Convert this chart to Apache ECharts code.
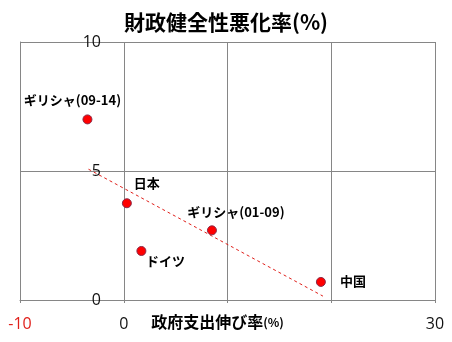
<!DOCTYPE html>
<html>
<head>
<meta charset="utf-8">
<script src="https://cdn.jsdelivr.net/npm/echarts@6/dist/echarts.min.js"></script>
<style>
  html, body { margin: 0; padding: 0; background: #fff; }
  #chart { width: 452px; height: 342px; }
</style>
</head>
<body>
<div id="chart"></div>
<script>
// 国・期間
const names = ['ギリシャ(09-14)', '日本', 'ギリシャ(01-09)', 'ドイツ', '中国'];
// 政府支出伸び率(%)
const spendGrowth = [-3.5, 0.3, 8.5, 1.7, 19.0];
// 財政健全性悪化率(%)
const fiscalWorsening = [7.0, 3.75, 2.7, 1.9, 0.7];
// 近似直線の両端
const trendX = [-3.4, 19.2];
const trendY = [5.07, 0.15];
// 目盛ラベル
const xTickLabels = { '-10': '{r|-10}', '0': '0', '30': '30' };

const jpFont = '"Noto Sans CJK JP", "Noto Sans", sans-serif';
const numFont = '"Open Sans", "Noto Sans", sans-serif';

// ラベルの位置（点の中心からのずれ）
const labelOffsets = [[-15, -19], [20, -20], [24, -18], [24, 10], [32, -1]];

let chart = echarts.init(document.getElementById('chart'));

let points = names.map((n, i) => {
  return {
    name: n,
    value: [spendGrowth[i], fiscalWorsening[i]],
    label: { offset: labelOffsets[i] }
  }
});

let option = {
  animation: false,
  backgroundColor: '#fff',
  title: {
    text: '財政健全性悪化率(%)',
    left: 'center',
    top: 7,
    textStyle: {
      fontFamily: jpFont,
      fontSize: 21,
      fontWeight: 'bold',
      color: '#000'
    }
  },
  grid: {
    left: 20,
    right: 17,
    top: 42,
    bottom: 42,
    containLabel: false,
    outerBoundsMode: 'none'
  },
  xAxis: {
    type: 'value',
    min: -10,
    max: 30,
    interval: 10,
    name: '政府支出伸び率{s|(%)}',
    nameLocation: 'middle',
    nameGap: 14,
    nameMoveOverlap: false,
    nameTextStyle: {
      fontFamily: jpFont,
      fontSize: 16,
      fontWeight: 'bold',
      color: '#000',
      padding: [0, 20, 0, 0],
      rich: {
        s: { fontFamily: jpFont, fontSize: 12, fontWeight: 'bold', color: '#000' }
      }
    },
    axisLine: { lineStyle: { color: '#868686', width: 1 } },
    axisTick: { show: true, length: 3, lineStyle: { color: '#868686' } },
    axisLabel: {
      margin: 16,
      fontFamily: numFont,
      fontSize: 16,
      color: '#111',
      formatter: v => xTickLabels[String(v)] || '',
      rich: {
        r: { fontFamily: numFont, fontSize: 16, color: '#e0201b' }
      }
    },
    splitLine: { show: true, lineStyle: { color: '#868686', width: 1 } }
  },
  yAxis: {
    type: 'value',
    min: 0,
    max: 10,
    interval: 5,
    axisLine: { show: true, onZero: false, lineStyle: { color: '#868686', width: 1 } },
    axisTick: { show: false },
    axisLabel: {
      // 0 の位置の縦線の左に置く
      margin: -81,
      fontFamily: numFont,
      fontSize: 16,
      color: '#111'
    },
    splitLine: { show: true, lineStyle: { color: '#868686', width: 1 } }
  },
  series: [
    {
      type: 'line',
      data: trendX.map((x, i) => [x, trendY[i]]),
      symbol: 'none',
      silent: true,
      lineStyle: { color: '#e0201b', width: 1, type: [3, 3] },
      z: 1
    },
    {
      type: 'scatter',
      data: points,
      symbol: 'circle',
      symbolSize: 9,
      itemStyle: {
        color: '#ff0000',
        borderColor: '#8a2a48',
        borderWidth: 1,
        opacity: 1
      },
      label: {
        show: true,
        position: 'inside',
        formatter: '{b}',
        fontFamily: jpFont,
        fontSize: 13,
        fontWeight: 'bold',
        color: '#000'
      },
      z: 2
    }
  ]
};

chart.setOption(option);
</script>
</body>
</html>
